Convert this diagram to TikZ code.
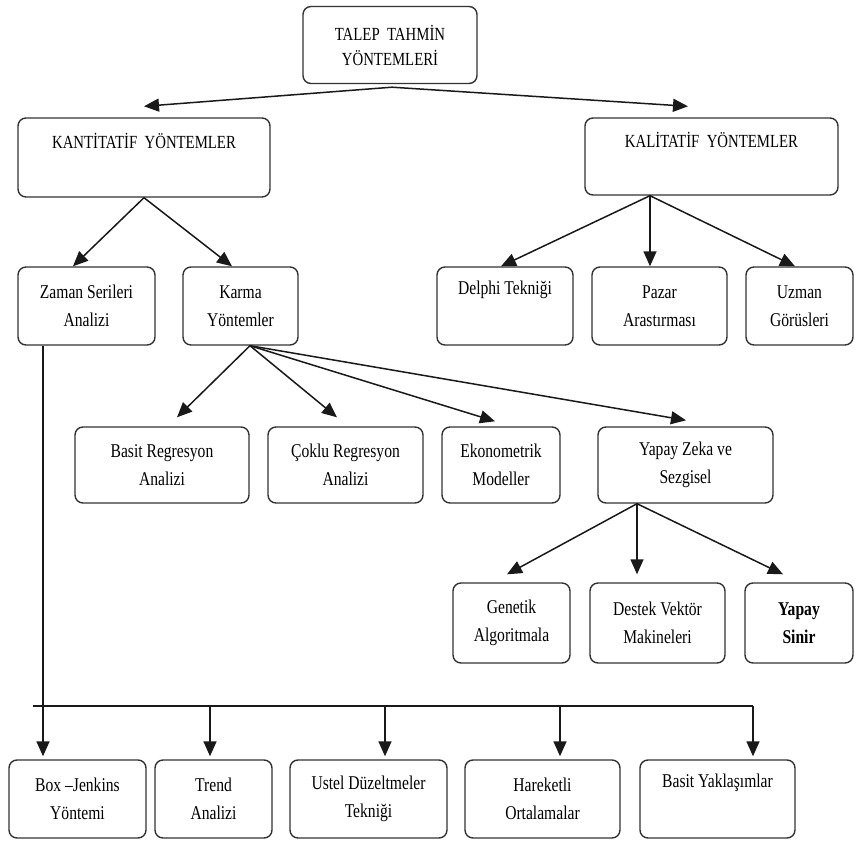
\documentclass[tikz,border=0pt]{standalone}
\usepackage{fontspec}
\setmainfont{Liberation Serif}[FakeStretch=0.8]
\usetikzlibrary{arrows.meta}
\begin{document}
\begin{tikzpicture}[x=1pt,y=-1pt,
  box/.style={draw=black!80, line width=1.4pt, rounded corners=8pt, align=center,
    inner sep=0pt, font=\fontsize{19.5}{27.5}\selectfont},
  capbox/.style={box, font=\fontsize{18.5}{25}\selectfont},
  conn/.style={line width=1.5pt, draw=black!90, -{Triangle[length=15pt,width=13pt]}},
  plain/.style={line width=1.5pt, draw=black!90}
]
\useasboundingbox (0,0) rectangle (855,841);
% level 0
\node[capbox, minimum width=174pt, minimum height=77pt] (top) at (390,45) {TALEP\ \ TAHMİN\\YÖNTEMLERİ};
% level 1
\node[capbox, minimum width=252pt, minimum height=79pt] (kant) at (144,157.5) {KANTİTATİF\ \ YÖNTEMLER\\\strut};
\node[capbox, minimum width=253pt, minimum height=77pt] (kalit) at (711.5,156.5) {KALİTATİF\ \ YÖNTEMLER\\\strut};
% level 2
\node[box, minimum width=137pt, minimum height=78pt] (zaman) at (86.5,306) {Zaman Serileri\\Analizi};
\node[box, minimum width=115pt, minimum height=78pt] (karma) at (240.5,306) {Karma\\Yöntemler};
\node[box, minimum width=136pt, minimum height=78pt] (delphi) at (505,306) {Delphi Tekniği\\\strut};
\node[box, minimum width=135pt, minimum height=78pt] (pazar) at (659.5,306) {Pazar\\Arastırması};
\node[box, minimum width=107pt, minimum height=78pt] (uzman) at (799.5,306) {Uzman\\Görüsleri};
% level 3
\node[box, minimum width=174pt, minimum height=76pt] (basit) at (162,465) {Basit Regresyon\\Analizi};
\node[box, minimum width=155pt, minimum height=76pt] (coklu) at (345.5,465) {Çoklu Regresyon\\Analizi};
\node[box, minimum width=118pt, minimum height=76pt] (ekon) at (501,465) {Ekonometrik\\Modeller};
\node[box, minimum width=175pt, minimum height=76pt] (yz) at (685.5,465) {Yapay Zeka ve\\Sezgisel};
% level 4
\node[box, minimum width=117pt, minimum height=80pt] (genetik) at (511.5,623) {Genetik\\Algoritmala};
\node[box, minimum width=135pt, minimum height=80pt] (destek) at (657.5,623) {Destek Vektör\\Makineleri};
\node[box, minimum width=108pt, minimum height=80pt] (ysinir) at (799,623) {\bfseries Yapay\\\bfseries Sinir};
% bottom row
\node[box, minimum width=137pt, minimum height=78pt] (boxj) at (77.5,799) {Box --Jenkins\\Yöntemi};
\node[box, minimum width=117pt, minimum height=78pt] (trend) at (213.5,799) {Trend\\Analizi};
\node[box, minimum width=157pt, minimum height=78pt] (ustel) at (368.5,799) {Ustel Düzeltmeler\\Tekniği};
\node[box, minimum width=155pt, minimum height=78pt] (harek) at (542.5,799) {Hareketli\\Ortalamalar};
\node[box, minimum width=155pt, minimum height=78pt] (basyak) at (717.5,799) {Basit Yaklaşımlar\\\strut};

% connectors
\draw[conn] ([xshift=2pt,yshift=-3pt]top.south) -- ([xshift=0pt,yshift=11pt]kant.north);
\draw[conn] ([xshift=2pt,yshift=-3pt]top.south) -- ([xshift=-23.5pt,yshift=11pt]kalit.north);

\draw[conn] (kant.south) -- ([xshift=-13.5pt]zaman.north);
\draw[conn] (kant.south) -- ([xshift=-8.5pt]karma.north);

\draw[conn] ([xshift=-61.5pt]kalit.south) -- ([xshift=-4pt]delphi.north);
\draw[conn] ([xshift=-61.5pt]kalit.south) -- ([xshift=-9.5pt]pazar.north);
\draw[conn] ([xshift=-61.5pt]kalit.south) -- ([xshift=-4.5pt]uzman.north);

\draw[conn] ([xshift=9.5pt]karma.south) -- ([xshift=15pt,yshift=9pt]basit.north);
\draw[conn] ([xshift=9.5pt]karma.south) -- ([xshift=-8.5pt,yshift=9pt]coklu.north);
\draw[conn] ([xshift=9.5pt]karma.south) -- ([xshift=-6pt,yshift=5pt]ekon.north);
\draw[conn] ([xshift=9.5pt]karma.south) -- ([xshift=0.5pt,yshift=6pt]yz.north);

\draw[conn] ([xshift=-48.5pt]yz.south) -- ([xshift=-4.5pt,yshift=8pt]genetik.north);
\draw[conn] ([xshift=-48.5pt]yz.south) -- ([xshift=-20.5pt,yshift=8pt]destek.north);
\draw[conn] ([xshift=-48.5pt]yz.south) -- ([xshift=-16pt,yshift=8pt]ysinir.north);

\draw[conn] ([xshift=-43.5pt]zaman.south) -- ([xshift=-34.5pt,yshift=3pt]boxj.north);
\coordinate (busL) at (33,706);
\coordinate (busR) at (753,706);
\draw[plain] (busL) -- (busR);
\draw[conn] (210,706) -- ([xshift=-3.5pt,yshift=3pt]trend.north);
\draw[conn] (385,706) -- ([xshift=16.5pt,yshift=3pt]ustel.north);
\draw[conn] (560,706) -- ([xshift=17.5pt,yshift=3pt]harek.north);
\draw[conn] (busR) -- ([xshift=35.5pt,yshift=3pt]basyak.north);
\end{tikzpicture}
\end{document}
